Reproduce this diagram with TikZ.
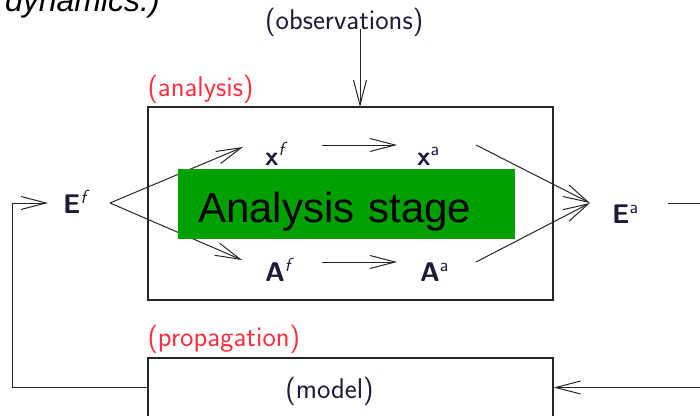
\documentclass[tikz,border=0pt]{standalone}
\usepackage{fontspec}
\usepackage{tikz}
\usetikzlibrary{arrows.meta,positioning,calc}
\newfontfamily\arialfont{Liberation Sans}
\definecolor{inknavy}{HTML}{1C1C38}
\definecolor{tagred}{HTML}{FF3040}
\definecolor{stagegreen}{HTML}{00A000}
\tikzset{
  >={Straight Barb[length=25pt,width=13pt]},
  % kaders
  boxframe/.style={draw=black!85,line width=1.3pt,inner sep=0pt},
  stagebox/.style={fill=stagegreen,text=black,inner xsep=20pt,inner ysep=0pt,
    font=\arialfont\fontsize{42}{48}\selectfont,text width=297pt,align=left,
    minimum height=70pt,text height=36pt,text depth=0pt},
  % teksten
  tag/.style={font=\sffamily\fontsize{28.5}{32}\selectfont,text=inknavy,inner sep=0pt},
  redtag/.style={tag,text=tagred},
  sym/.style={tag,font=\sffamily\fontsize{27}{30}\selectfont,anchor=base west},
  flow/.style={->,draw=black!85,line width=1pt},
}
\begin{document}
\begin{tikzpicture}[x=1pt,y=-1pt]
  \useasboundingbox (0,0) rectangle (700,415);
  \node[anchor=base east,inner sep=0pt,
        font=\arialfont\itshape\fontsize{32}{36}\selectfont] (dyn) at (160,12) {dynamics.)};
  \node[tag,anchor=base west] (obs) at (265,29) {(observations)};
  \node[boxframe,minimum width=405pt,minimum height=193pt] (ana) at (350.5,203.5) {};
  \node[redtag,anchor=base west] (anatag) at ([shift={(0,-10)}]ana.north west) {(analysis)};
  \node[boxframe,minimum width=405pt,minimum height=59pt] (prop) at (350.5,387.5) {};
  \node[redtag,anchor=base west] (proptag) at ([shift={(0,-11)}]prop.north west) {(propagation)};
  \node[tag,anchor=base] (model) at (329.5,398) {(model)};
  % ensemble
  \node[sym] (Ef) at (63,213) {\textbf{E}\textsuperscript{\itshape f}};
  \node[sym] (xf) at (265,165) {\textbf{x}\textsuperscript{\itshape f}};
  \node[sym] (xa) at (417,165) {\textbf{x}\textsuperscript{a}};
  \node[sym] (Af) at (265,281) {\textbf{A}\textsuperscript{\itshape f}};
  \node[sym] (Aa) at (420,281) {\textbf{A}\textsuperscript{a}};
  \node[sym] (Ea) at (612,223) {\textbf{E}\textsuperscript{a}};
  \coordinate (obsin) at (360,107);
  \coordinate (lcorner) at (12,203);
  \coordinate (rcorner) at (720,203);
  \draw[flow] (obsin |- obs.base) -- (obsin);
  \draw[flow] ([shift={(47,-10)}]Ef.base west) -- ([shift={(-22,-18)}]xf.base west);
  \draw[flow] ([shift={(47,-10)}]Ef.base west) -- ([shift={(-23,-21)}]Af.base west);
  \draw[flow] ([shift={(57,-20)}]xf.base west) -- ([shift={(-20,-20)}]xa.base west);
  \draw[flow] ([shift={(57,-19)}]Af.base west) -- ([shift={(-23,-19)}]Aa.base west);
  \draw[flow] ([shift={(59,-20)}]xa.base west) -- ([shift={(-22,-20)}]Ea.base west);
  \draw[flow] ([shift={(56,-19)}]Aa.base west) -- ([shift={(-22,-20)}]Ea.base west);
  \draw[flow] ([shift={(56,-20)}]Ea.base west) -- (rcorner) |- (prop.east);
  \draw[flow] (prop.west) -| (lcorner) -- ([shift={(-15,-10)}]Ef.base west);
  % groen label
  \node[stagebox] (stage) at (346.5,204) {Analysis stage};
\end{tikzpicture}
\end{document}
